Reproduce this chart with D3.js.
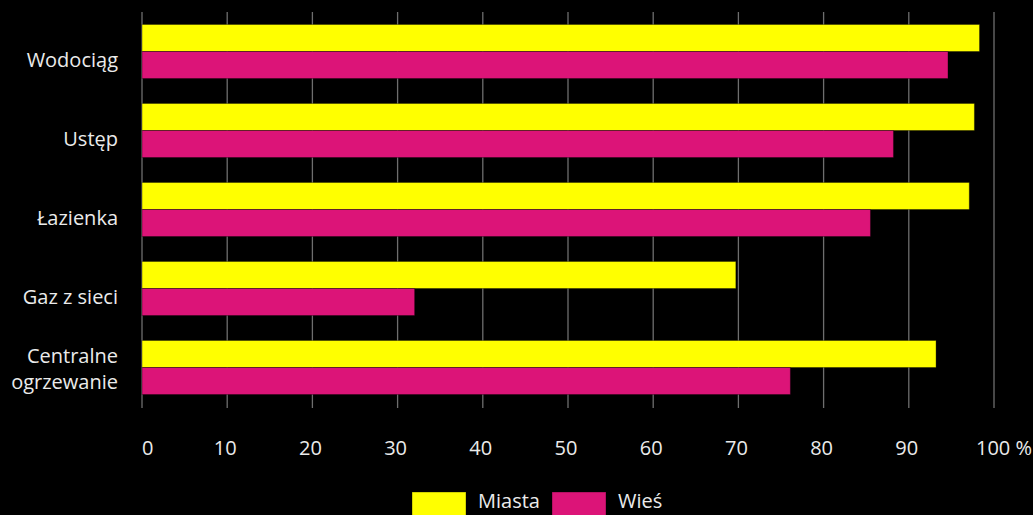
<!DOCTYPE html>
<html>
<head>
<meta charset="utf-8">
<script src="https://cdn.jsdelivr.net/npm/d3@7"></script>
<style>
  body { margin:0; background:#000; }
  text { font-family: "Open Sans", "Noto Sans", sans-serif; fill:#ebebeb; }
</style>
</head>
<body>
<div id="chart-area"></div>
<script>
// categories and values (percent)
var categories = ["Wodociąg", "Ustęp", "Łazienka", "Gaz z sieci", "Centralne ogrzewanie"];
var miasta = [98.3, 97.7, 97.1, 69.7, 93.2];
var wies = [94.6, 88.2, 85.5, 32.0, 76.1];
var seriesNames = ["Miasta", "Wieś"];
var seriesColors = ["#ffff00", "#dc1478"];
var ticks = [0, 10, 20, 30, 40, 50, 60, 70, 80, 90, 100];

var width = 1033, height = 515;

var svg = d3.select("#chart-area")
    .append("svg")
        .attr("width", width)
        .attr("height", height);

svg.append("rect").attr("width", width).attr("height", height).attr("fill", "#000");

var xscale = d3.scaleLinear()
    .domain([0, 100])
    .range([142, 994]);

var yscale = d3.scaleBand()
    .domain(categories)
    .range([12, 407])
    .paddingInner(0.316)
    .paddingOuter(0.158);

var sub = d3.scaleBand()
    .domain(seriesNames)
    .range([0, yscale.bandwidth()]);

// gridlines
svg.append("g")
    .selectAll("line")
    .data(ticks)
    .enter()
    .append("line")
        .attr("x1", function(d){ return xscale(d); })
        .attr("x2", function(d){ return xscale(d); })
        .attr("y1", 12)
        .attr("y2", 408)
        .attr("stroke", "#6e6e6e")
        .attr("stroke-width", 1.3);

// bars
var rows = categories.map(function(c, i){
    return { cat: c, vals: [miasta[i], wies[i]] };
});

var group = svg.selectAll(".row")
    .data(rows)
    .enter()
    .append("g")
        .attr("class", "row")
        .attr("transform", function(d){ return "translate(0," + yscale(d.cat) + ")"; });

group.selectAll("rect")
    .data(function(d){ return d.vals.map(function(v, j){ return { v: v, s: seriesNames[j], c: seriesColors[j] }; }); })
    .enter()
    .append("rect")
        .attr("x", xscale(0))
        .attr("y", function(d){ return sub(d.s); })
        .attr("width", function(d){ return xscale(d.v) - xscale(0); })
        .attr("height", sub.bandwidth())
        .attr("fill", function(d){ return d.c; })
        .attr("stroke", "rgba(0,0,0,0.35)")
        .attr("stroke-width", 1);

// category labels
svg.selectAll(".cat")
    .data(categories)
    .enter()
    .append("text")
        .attr("class", "cat")
        .attr("text-anchor", "end")
        .attr("font-size", "20px")
        .attr("x", 118)
        .attr("y", function(d){ return yscale(d) + yscale.bandwidth()/2; })
        .each(function(d){
            var t = d3.select(this);
            var parts = d === "Centralne ogrzewanie" ? ["Centralne", "ogrzewanie"] : [d];
            parts.forEach(function(p, k){
                t.append("tspan")
                    .attr("x", 118)
                    .attr("dy", parts.length === 1 ? "0.75em" : (k === 0 ? "-0.25em" : "1.3em"))
                    .text(p);
            });
        });

// x tick labels
svg.selectAll(".tick-lbl")
    .data(ticks)
    .enter()
    .append("text")
        .attr("class", "tick-lbl")
        .attr("font-size", "20px")
        .attr("y", 455)
        .attr("x", function(d){
            if (d === 0) return xscale(d);
            if (d === 100) return xscale(d) - 18;
            return xscale(d) - 2;
        })
        .attr("text-anchor", function(d){ return (d === 0 || d === 100) ? "start" : "middle"; })
        .text(function(d){ return d === 100 ? "100 %" : d; });

// legend
var legend = svg.append("g");
var legX = [412, 552];
seriesNames.forEach(function(s, i){
    legend.append("rect")
        .attr("x", legX[i])
        .attr("y", 492)
        .attr("width", 54)
        .attr("height", 27)
        .attr("fill", seriesColors[i])
        .attr("stroke", "rgba(0,0,0,0.35)");
    legend.append("text")
        .attr("x", legX[i] + 66)
        .attr("y", 508)
        .attr("font-size", "20px")
        .text(s);
});
</script>
</body>
</html>
